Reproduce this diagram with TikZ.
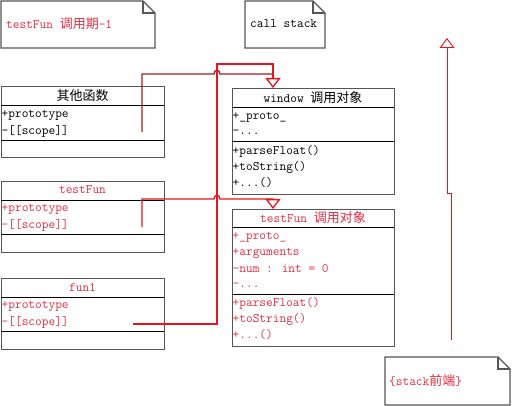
\documentclass[tikz,border=0pt]{standalone}
\usepackage{fontspec}
\newfontfamily\cjk{Noto Sans CJK SC}
\usetikzlibrary{arrows.meta,positioning}

\definecolor{txtred}{RGB}{225,45,65}
\definecolor{linkred}{RGB}{232,20,30}
\definecolor{oldred}{RGB}{165,30,30}
\definecolor{boxgray}{RGB}{85,85,85}

\begin{document}
\begin{tikzpicture}[x=1pt, y=-1pt,
    every node/.style={font=\fontsize{13}{15}\selectfont\ttfamily, inner sep=1pt},
    umlframe/.style={draw=boxgray, line width=1.3pt, inner sep=0pt, anchor=north west},
    sepline/.style={line width=1pt, black},
    row/.style={anchor=west, inner sep=0.5pt},
    redrow/.style={row, text=txtred},
    link/.style={line width=1.3pt, linkred},
    oldlink/.style={line width=1.3pt, oldred},
    hollow/.style={-{Triangle[open, width=15pt, length=10pt]}}
  ]
    \useasboundingbox (0,0) rectangle (512,406);

    % notes with folded corner
    \draw[umlframe] (1,1) -- (143,1) -- (155,13) -- (155,48) -- (1,48) -- cycle;
    \draw[umlframe] (143,1) -- (143,13) -- (155,13);
    \node[anchor=west, text=txtred] (period) at (5,24) {testFun {\cjk 调用期}-1};

    \draw[umlframe] (245,1) -- (313,1) -- (325,13) -- (325,48) -- (245,48) -- cycle;
    \draw[umlframe] (313,1) -- (313,13) -- (325,13);
    \node[anchor=west] (callstack) at (249,24) {call stack};

    \draw[umlframe] (385,357) -- (498,357) -- (510,369) -- (510,405) -- (385,405) -- cycle;
    \draw[umlframe] (498,357) -- (498,369) -- (510,369);
    \node[anchor=west, text=txtred] (stackfront) at (388,381) {\{stack{\cjk 前端}\}};

    % class: other functions
    \node[umlframe, minimum width=163pt, minimum height=71pt] (other) at (1,86) {};
    \draw[sepline] (1,106) -- (164,106);
    \draw[sepline] (1,141) -- (164,141);
    \node (otherhead) at (82.5,96) {{\cjk 其他函数}};
    \node[row] (otherproto) at (1,115) {+prototype};
    \node[row] (otherscope) at (1,131) {-[[scope]]};

    % class: testFun
    \node[umlframe, minimum width=163pt, minimum height=71pt] (test) at (1,181) {};
    \draw[sepline] (1,201) -- (164,201);
    \draw[sepline] (1,235) -- (164,235);
    \node[text=txtred] (testhead) at (82.5,190) {testFun};
    \node[redrow] (testproto) at (1,209) {+prototype};
    \node[redrow] (testscope) at (1,225) {-[[scope]]};

    % class: fun1
    \node[umlframe, minimum width=163pt, minimum height=71pt] (fun) at (1,278) {};
    \draw[sepline] (1,298) -- (164,298);
    \draw[sepline] (1,332) -- (164,332);
    \node[text=txtred] (funhead) at (82.5,287) {fun1};
    \node[redrow] (funproto) at (1,306) {+prototype};
    \node[redrow] (funscope) at (1,322) {-[[scope]]};

    % window call object
    \node[umlframe, minimum width=162pt, minimum height=106pt] (win) at (232,88) {};
    \draw[sepline] (232,108) -- (394,108);
    \draw[sepline] (232,142) -- (394,142);
    \node (winhead) at (313,98) {window {\cjk 调用对象}};
    \node[row] (winproto) at (232,117) {+\_proto\_};
    \node[row] (windots) at (232,132) {-...};
    \node[row] (winparse) at (232,151) {+parseFloat()};
    \node[row] (winstring) at (232,167) {+toString()};
    \node[row] (winmore) at (232,183) {+...()};

    % testFun call object
    \node[umlframe, minimum width=162pt, minimum height=137pt] (testobj) at (232,209) {};
    \draw[sepline] (232,228) -- (394,228);
    \draw[sepline] (232,295) -- (394,295);
    \node[text=txtred] (testobjhead) at (313,218) {testFun {\cjk 调用对象}};
    \node[redrow] (objproto) at (232,237) {+\_proto\_};
    \node[redrow] (objargs) at (232,253) {+arguments};
    \node[redrow] (objnum) at (232,269) {-num : int = 0};
    \node[redrow] (objdots) at (232,285) {-...};
    \node[redrow] (objparse) at (232,303) {+parseFloat()};
    \node[redrow] (objstring) at (232,319) {+toString()};
    \node[redrow] (objmore) at (232,335) {+...()};

    % scope links
    \coordinate (otherlink) at (142,132);
    \coordinate (testlink) at (142,227);
    \coordinate (funlink) at (133,324);
    \coordinate (winin) at ([xshift=41pt]win.north west);
    \coordinate (testin) at ([xshift=41pt]testobj.north west);

    \draw[oldlink] (otherlink) |- (214,74) .. controls (214,69) and (220,69) .. (220,74) -- (winin |- 0,74);
    \draw[link, hollow] (funlink) -| (217,64) -| (winin);
    \draw[link, hollow] (testlink) |- (214,199) .. controls (214,194) and (220,194) .. (220,199) -| (testin);

    % stack direction
    \coordinate (stackbot) at (451,340);
    \coordinate (stacktop) at (447,38);
    \draw[linkred, line width=0.9pt, hollow] (stackbot) -- (451,193) -- (447,193) -- (stacktop);
\end{tikzpicture}
\end{document}
